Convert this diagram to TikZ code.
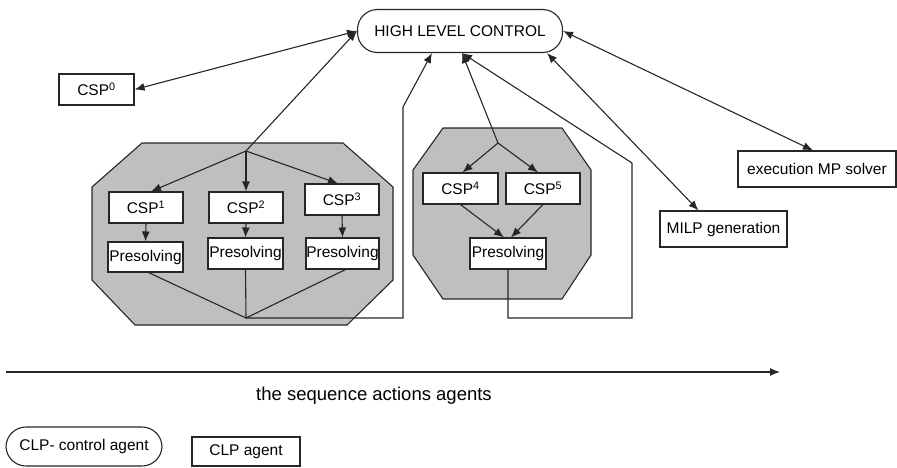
\documentclass[tikz,border=0pt]{standalone}
\usepackage{fontspec}
\setmainfont{Liberation Sans}
\usetikzlibrary{arrows.meta,calc}
\tikzset{
  base/.style={line width=1.1pt, draw=black!85},
  box/.style={base, fill=white, rectangle, inner sep=0pt, minimum height=31pt,
    font=\fontsize{15.5}{18}\selectfont},
  stadium/.style={base, fill=white, rectangle, inner sep=0pt, rounded corners=20pt,
    font=\fontsize{15.5}{18}\selectfont},
  group/.style={base, fill=black!25},
  link/.style={line width=1.1pt, draw=black!85},
  tip/.style={link, -{Latex[length=10pt,width=8pt]}},
  both/.style={link, {Latex[length=10pt,width=8pt]}-{Latex[length=10pt,width=8pt]}},
}
\begin{document}
\begin{tikzpicture}[x=1pt, y=-1pt]
\useasboundingbox (0,0) rectangle (897,467);

% shaded groups of agents
\path[group] (142,143) -- (343,143) -- (393,187) -- (393,280) -- (347,325)
  -- (135,325) -- (92,280) -- (92,187) -- cycle;
\path[group] (443,128) -- (562,128) -- (591,170) -- (591,255) -- (562,299)
  -- (443,299) -- (413,255) -- (413,170) -- cycle;

% agents
\node[stadium, minimum width=205pt, minimum height=43pt] (hlc) at (460,31) {HIGH LEVEL CONTROL};
\node[box, minimum width=75pt] (csp0) at (96.5,89.5) {CSP\textsuperscript{0}};
\node[box, minimum width=74pt] (csp1) at (146,207.5) {CSP\textsuperscript{1}};
\node[box, minimum width=74pt] (csp2) at (246,207.5) {CSP\textsuperscript{2}};
\node[box, minimum width=74pt] (csp3) at (342,199.5) {CSP\textsuperscript{3}};
\node[box, minimum width=75pt, minimum height=30pt] (pre1) at (145.5,257) {Presolving};
\node[box, minimum width=75pt] (pre2) at (245.5,253.5) {Presolving};
\node[box, minimum width=73pt] (pre3) at (342.5,253.5) {Presolving};
\node[box, minimum width=75pt] (csp4) at (460.5,188.5) {CSP\textsuperscript{4}};
\node[box, minimum width=74pt] (csp5) at (543,188.5) {CSP\textsuperscript{5}};
\node[box, minimum width=76pt] (pre4) at (508,253.5) {Presolving};
\node[box, minimum width=127pt, minimum height=36pt] (milp) at (723.5,229) {MILP generation};
\node[box, minimum width=158pt, minimum height=36pt] (exec) at (817,169) {execution MP solver};

% branching and joining points
\coordinate (fan1) at (246,151);
\coordinate (join1) at (246,318);
\coordinate (out1a) at (403,318);
\coordinate (out1b) at (403,107);
\coordinate (fan2) at (498,143);
\coordinate (join2) at (508,318);
\coordinate (out2a) at (632,318);
\coordinate (out2b) at (632,163);

% connectors
\draw[both] (csp0.east) -- (hlc.west);
\draw[tip] (fan1) -- (hlc.west);
\draw[tip] (fan1) -- ($(csp1.north)+(5,0)$);
\draw[tip] (fan1) -- (csp2.north);
\draw[tip] (fan1) -- ($(csp3.north)+(-4,0)$);
\draw[tip] (csp1.south) -- (pre1.north);
\draw[tip] (csp2.south) -- (pre2.north);
\draw[tip] (csp3.south) -- (pre3.north);
\draw[link] ($(pre1.south)+(3,0)$) -- (join1);
\draw[link] (pre2.south) -- (join1);
\draw[link] ($(pre3.south)+(3,0)$) -- (join1);
\draw[tip] (join1) -- (out1a) -- (out1b) -- ($(hlc.south)+(-28,0)$);

\draw[tip] (fan2) -- ($(hlc.south)+(2,0)$);
\draw[tip] (fan2) -- ($(csp4.north)+(2,0)$);
\draw[tip] (fan2) -- ($(csp5.north)+(-5,0)$);
\draw[tip] (csp4.south) -- ($(pre4.north)+(-4,0)$);
\draw[tip] (csp5.south) -- ($(pre4.north)+(3,0)$);
\draw[tip] (pre4.south) -- (join2) -- (out2a) -- (out2b) -- ($(hlc.south)+(2,0)$);

\draw[both] ($(hlc.south)+(87,0)$) -- ($(milp.north)+(-25,0)$);
\draw[both] (hlc.east) -- ($(exec.north)+(-4,0)$);

% time axis
\coordinate (t0) at (6,372);
\coordinate (t1) at (780,372);
\draw[tip] (t0) -- (t1);
\node[font=\fontsize{18.5}{22}\selectfont] (seq) at (374,396) {the sequence actions agents};

% legend
\node[stadium, minimum width=156pt, minimum height=39pt] (clpc) at (84,446.5) {CLP- control agent};
\node[box, minimum width=108pt, minimum height=29pt] (clpa) at (246,451.5) {CLP agent};
\end{tikzpicture}
\end{document}
